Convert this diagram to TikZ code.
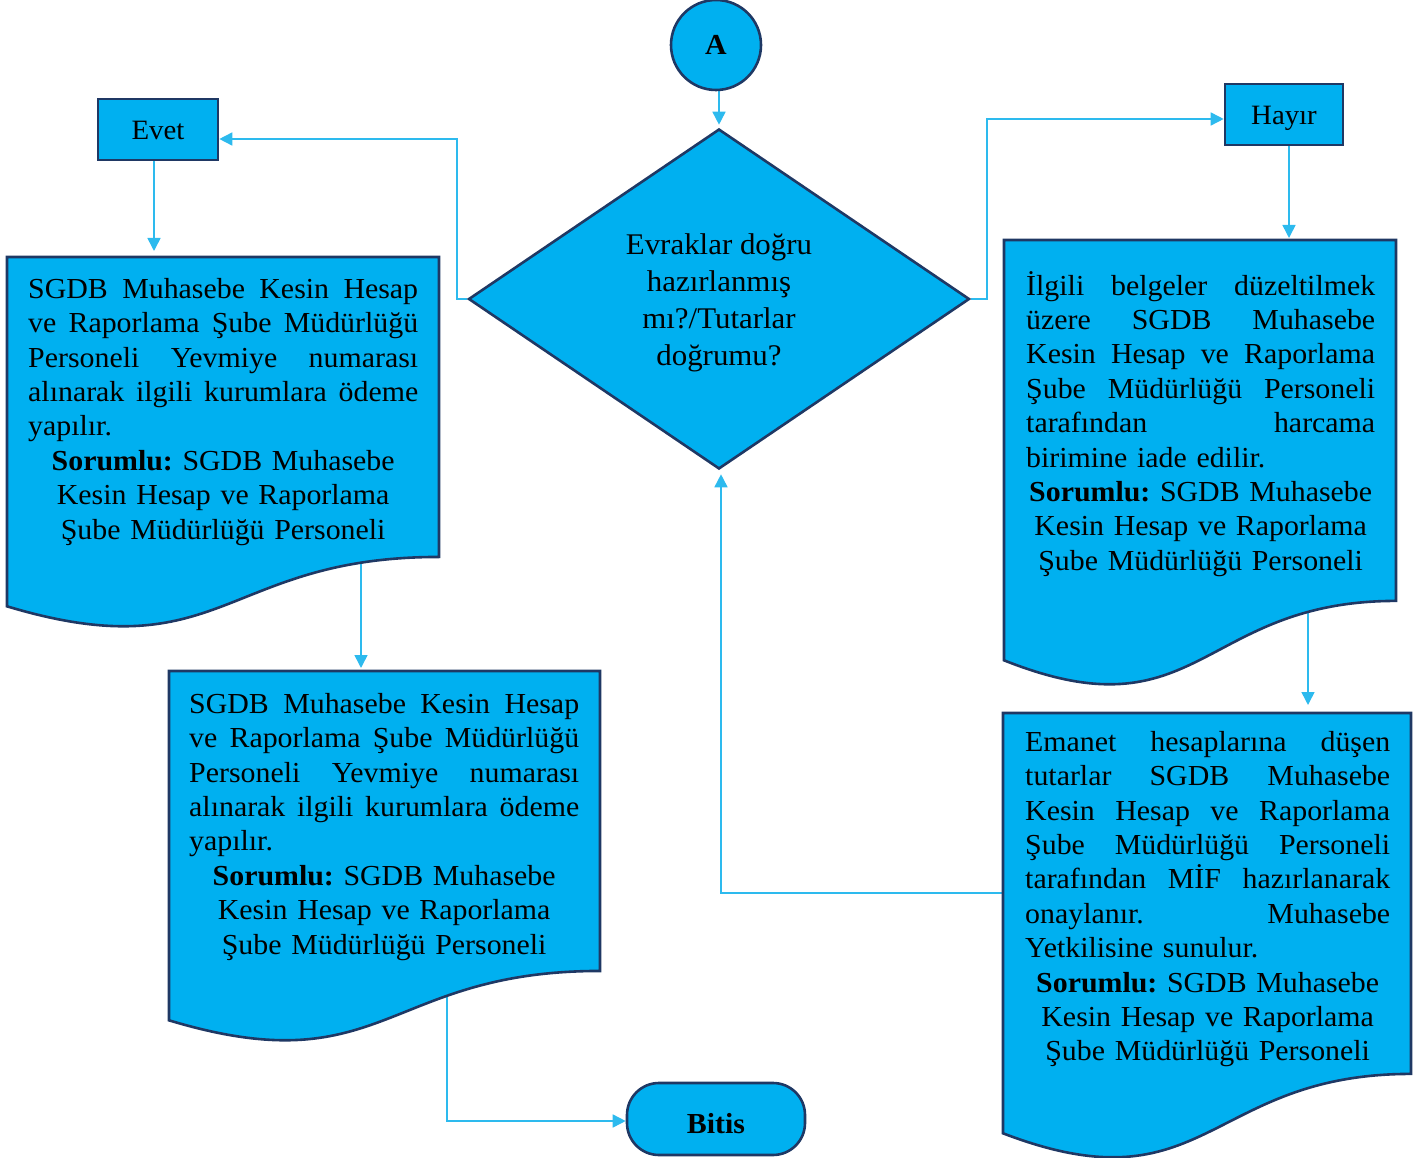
\documentclass[tikz,border=0pt]{standalone}
\usepackage{fontspec}
\setmainfont{Liberation Serif}[FakeStretch=1.03]
\usetikzlibrary{arrows.meta,shapes.geometric}
\definecolor{fillc}{HTML}{00B0F0}
\definecolor{edgec}{HTML}{1F3864}
\definecolor{linec}{HTML}{2DBAEE}
\pgfdeclarelayer{bg}
\pgfsetlayers{bg,main}
\newcommand{\docshape}[4]{%
  \draw[docbox] (#1,#2) -- ({#1+#3},#2) -- ({#1+#3},{#2+0.802*#4})
    .. controls ({#1+0.5*#3},{#2+0.802*#4}) and ({#1+0.5*#3},{#2+1.1075*#4}) ..
    (#1,{#2+0.934*#4}) -- cycle;}
\newcommand{\js}[2]{\leavevmode\hbox to #1{#2}}
\newcommand{\jl}[2]{\leavevmode\hbox to #1{#2\hfil}}
\tikzset{
  docbox/.style={draw=edgec, fill=fillc, line width=2.6pt, line join=miter},
  boxst/.style={draw=edgec, fill=fillc, line width=2.6pt, inner sep=0pt,
    text height=24pt, text depth=3pt, font=\fontsize{28}{33}\selectfont},
  doctext/.style={inner sep=0pt, anchor=north west, align=center,
    font=\frenchspacing\fontsize{29}{34.4}\selectfont},
  conn/.style={draw=linec, line width=1.6pt, -{Triangle[length=13pt,width=13pt]}},
}
\begin{document}
\begin{tikzpicture}[x=1pt,y=-1pt]
\useasboundingbox (0,0) rectangle (1422,1158);

% --- shapes ---
\node[draw=edgec, fill=fillc, line width=2.6pt, inner sep=0pt, circle, minimum size=90pt,
  font=\bfseries\fontsize{29}{33}\selectfont] (A) at (716,45) {A};
\node[diamond, draw=edgec, fill=fillc, line width=2.6pt, minimum width=501pt,
  minimum height=340pt, inner sep=0pt] (dia) at (719,299) {};
\node[inner sep=0pt, align=center, font=\fontsize{30}{37}\selectfont] (diatext)
  at (719,303) {Evraklar doğru\\hazırlanmış\\mı?/Tutarlar\\doğrumu?};
\node[boxst, minimum width=120pt, minimum height=61pt] (evet) at (158,129.5) {Evet};
\node[boxst, minimum width=118pt, minimum height=61pt] (hayir) at (1284,114.5) {Hayır};
\node[boxst, minimum width=178pt, minimum height=72pt, rounded corners=32pt,
  text height=30pt, text depth=2pt,
  font=\bfseries\fontsize{29}{33}\selectfont] (bitis) at (716,1119) {Bitis};

\docshape{7}{257}{432}{374}
\docshape{169}{671}{431}{374}
\docshape{1004}{240}{392}{450}
\docshape{1003}{713}{408}{450}

\node[doctext, text width=390pt] (t1) at (28,278) {%
\js{390pt}{SGDB\hfill Muhasebe\hfill Kesin\hfill Hesap}\\
\js{390pt}{ve\hfill Raporlama\hfill Şube\hfill Müdürlüğü}\\
\js{390pt}{Personeli\hfill Yevmiye\hfill numarası}\\
\js{390pt}{alınarak\hfill ilgili\hfill kurumlara\hfill ödeme}\\
\jl{390pt}{yapılır.}\\
\mbox{\textbf{Sorumlu:} SGDB Muhasebe}\\
\mbox{Kesin Hesap ve Raporlama}\\
\mbox{Şube Müdürlüğü Personeli}};

\node[doctext, text width=390pt] (t2) at (189,693) {%
\js{390pt}{SGDB\hfill Muhasebe\hfill Kesin\hfill Hesap}\\
\js{390pt}{ve\hfill Raporlama\hfill Şube\hfill Müdürlüğü}\\
\js{390pt}{Personeli\hfill Yevmiye\hfill numarası}\\
\js{390pt}{alınarak\hfill ilgili\hfill kurumlara\hfill ödeme}\\
\jl{390pt}{yapılır.}\\
\mbox{\textbf{Sorumlu:} SGDB Muhasebe}\\
\mbox{Kesin Hesap ve Raporlama}\\
\mbox{Şube Müdürlüğü Personeli}};

\node[doctext, text width=349pt] (t3) at (1026,271) {%
\js{349pt}{İlgili\hfill belgeler\hfill düzeltilmek}\\
\js{349pt}{üzere\hfill SGDB\hfill Muhasebe}\\
\js{349pt}{Kesin\hfill Hesap\hfill ve\hfill Raporlama}\\
\js{349pt}{Şube\hfill Müdürlüğü\hfill Personeli}\\
\js{349pt}{tarafından\hfill harcama}\\
\jl{349pt}{birimine iade edilir.}\\
\mbox{\textbf{Sorumlu:} SGDB Muhasebe}\\
\mbox{Kesin Hesap ve Raporlama}\\
\mbox{Şube Müdürlüğü Personeli}};

\node[doctext, text width=365pt] (t4) at (1025,731) {%
\js{365pt}{Emanet\hfill hesaplarına\hfill düşen}\\
\js{365pt}{tutarlar\hfill SGDB\hfill Muhasebe}\\
\js{365pt}{Kesin\hfill Hesap\hfill ve\hfill Raporlama}\\
\js{365pt}{Şube\hfill Müdürlüğü\hfill Personeli}\\
\js{365pt}{tarafından\hfill MİF\hfill hazırlanarak}\\
\js{365pt}{onaylanır.\hfill Muhasebe}\\
\jl{365pt}{Yetkilisine sunulur.}\\
\mbox{\textbf{Sorumlu:} SGDB Muhasebe}\\
\mbox{Kesin Hesap ve Raporlama}\\
\mbox{Şube Müdürlüğü Personeli}};

% --- connector end points on the document shapes ---
\coordinate (b1in) at (154,257);
\coordinate (b1out) at (361,557);
\coordinate (b2in) at (361,671);
\coordinate (b2out) at (447,971);
\coordinate (b3in) at (1289,240);
\coordinate (b3out) at (1308,601);
\coordinate (b4in) at (1308,713);
\coordinate (b4w) at (1003,893);

% --- connectors ---
\begin{pgfonlayer}{bg}
\draw[conn, shorten >=3pt] (dia.north |- A.south) -- (dia.north);
\draw[conn] (dia.west) -- ++(-10,0) |- ([yshift=-9.5pt]evet.east);
\draw[conn, shorten >=6pt] ([xshift=-4pt]evet.south) -- (b1in);
\draw[conn, shorten >=3pt] (b1out) -- (b2in);
\draw[conn] (b2out) |- ([yshift=-2pt]bitis.west);
\draw[conn] (dia.east) -- ++(16,0) |- ([yshift=-4.5pt]hayir.west);
\draw[conn, shorten >=2pt] ([xshift=5pt]hayir.south) -- (b3in);
\draw[conn, shorten >=8pt] (b3out) -- (b4in);
\draw[conn, shorten >=4pt] (b4w) -| ([xshift=2pt]dia.south);
\end{pgfonlayer}
\end{tikzpicture}
\end{document}
